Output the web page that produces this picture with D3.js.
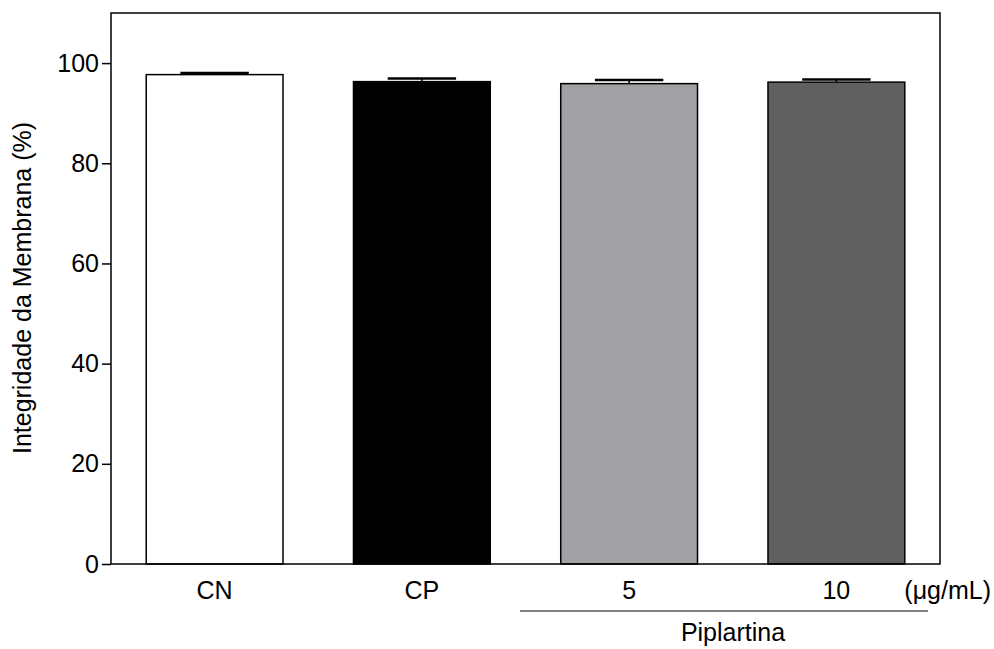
<!DOCTYPE html>
<html lang="pt">
<head>
    <meta charset="UTF-8" />
    <title>Integridade da Membrana</title>
    <script src="https://d3js.org/d3.v7.min.js"></script>
    <style>
        body { margin: 0; background: #fff; }
        text { font-family: "Liberation Sans", Arial, sans-serif; fill: #000; }
    </style>
</head>
<body>
    <script>
        // Data
        var groups = ["CN", "CP", "5", "10"];
        var means = [97.7, 96.3, 95.9, 96.2];
        var errors = [0.3, 0.6, 0.7, 0.5];
        var colors = ["#ffffff", "#000000", "#a1a0a4", "#606060"];
        var yTicks = [0, 20, 40, 60, 80, 100];

        var w = 994, h = 649;
        var mLeft = 111, mRight = 940, mTop = 13, mBottom = 564;

        var svg = d3.select("body").append("svg")
            .attr("width", w)
            .attr("height", h);

        var x = d3.scaleBand()
            .domain(groups)
            .range([mLeft, mRight])
            .paddingInner(0.34)
            .paddingOuter(0.17);

        var y = d3.scaleLinear()
            .domain([0, 110])
            .range([mBottom, mTop]);

        // bars
        svg.selectAll("rect.bar")
            .data(groups)
            .enter()
            .append("rect")
            .attr("class", "bar")
            .attr("x", function (d) { return x(d); })
            .attr("y", function (d, i) { return y(means[i]); })
            .attr("width", x.bandwidth())
            .attr("height", function (d, i) { return y(0) - y(means[i]); })
            .style("fill", function (d, i) { return colors[i]; })
            .style("stroke", "#000")
            .style("stroke-width", 1.5);

        // error bars (upper only)
        var cap = x.bandwidth() / 2;
        groups.forEach(function (g, i) {
            var cx = x(g) + x.bandwidth() / 2;
            svg.append("line")
                .attr("x1", cx).attr("x2", cx)
                .attr("y1", y(means[i])).attr("y2", y(means[i] + errors[i]))
                .style("stroke", "#000").style("stroke-width", 1.5);
            svg.append("line")
                .attr("x1", cx - cap / 2).attr("x2", cx + cap / 2)
                .attr("y1", y(means[i] + errors[i])).attr("y2", y(means[i] + errors[i]))
                .style("stroke", "#000").style("stroke-width", 2.5);
        });

        // frame
        svg.append("rect")
            .attr("x", mLeft).attr("y", mTop)
            .attr("width", mRight - mLeft).attr("height", mBottom - mTop)
            .style("fill", "none")
            .style("stroke", "#000")
            .style("stroke-width", 1.5);

        // y axis
        var yAxis = svg.append("g")
            .attr("transform", "translate(" + mLeft + ",0)")
            .call(d3.axisLeft(y).tickValues(yTicks).tickSize(9).tickPadding(3));
        yAxis.select(".domain").remove();
        yAxis.selectAll("line").style("stroke-width", 1.5);
        yAxis.selectAll("text")
            .style("font-size", "25px")
            .style("font-family", "'Liberation Sans', Arial, sans-serif");

        // x labels
        svg.selectAll("text.xlab")
            .data(groups)
            .enter()
            .append("text")
            .attr("class", "xlab")
            .attr("x", function (d) { return x(d) + x.bandwidth() / 2; })
            .attr("y", 599)
            .attr("text-anchor", "middle")
            .style("font-size", "25px")
            .text(function (d) { return d; });

        svg.append("text")
            .attr("x", 991)
            .attr("y", 599)
            .attr("text-anchor", "end")
            .style("font-size", "25px")
            .text("(\u03BCg/mL)");

        // Piplartina bracket line
        svg.append("line")
            .attr("x1", 520).attr("x2", 928)
            .attr("y1", 611).attr("y2", 611)
            .style("stroke", "#000").style("stroke-width", 1.2);

        svg.append("text")
            .attr("x", 733)
            .attr("y", 641)
            .attr("text-anchor", "middle")
            .style("font-size", "25px")
            .text("Piplartina");

        // y axis title
        svg.append("text")
            .attr("text-anchor", "middle")
            .attr("transform", "rotate(-90)")
            .attr("x", -288)
            .attr("y", 31)
            .style("font-size", "25px")
            .text("Integridade da Membrana (%)");
    </script>
</body>
</html>
